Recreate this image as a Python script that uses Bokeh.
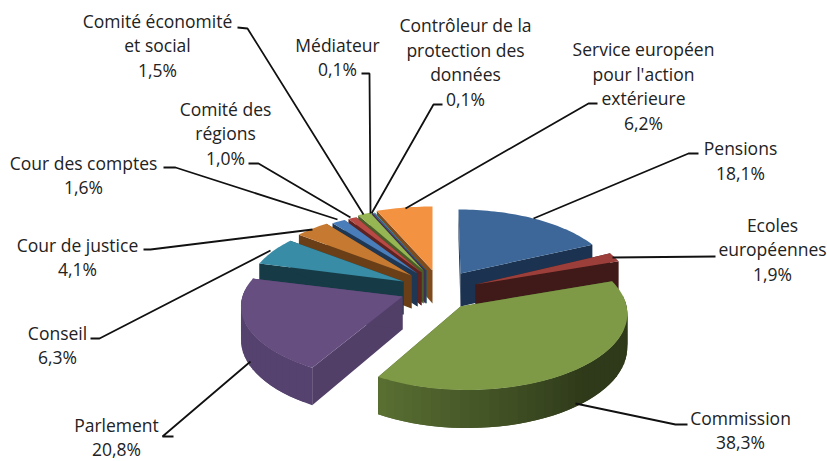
import math
from bokeh.plotting import figure
from bokeh.models import Range1d, ColumnDataSource
from bokeh.core.properties import value
from bokeh.embed import file_html
from bokeh.resources import INLINE

# ---- data
names = ["Pensions", "Ecoles\neuropéennes", "Commission", "Parlement", "Conseil",
         "Cour de justice", "Cour des comptes", "Comité des\nrégions",
         "Comité économité\net social", "Médiateur",
         "Contrôleur de la\nprotection des\ndonnées",
         "Service européen\npour l'action\nextérieure"]
shares = [18.1, 1.9, 38.3, 20.8, 6.3, 4.1, 1.6, 1.0, 1.5, 0.1, 0.1, 6.2]

# ---- styles / layout, one entry per slice
top_col = ["#3C6798", "#9C3F3B", "#7E9A47", "#664E80", "#398CA5", "#C67A31",
           "#4A7EBB", "#B84A46", "#95B652", "#7D60A0", "#46AAC5", "#F39241"]
side_dark = ["#1B3350", "#3F1A18", "#2F3A1A", "#4A3A60", "#163B46", "#6A3F18",
             "#1F3752", "#5E2320", "#4A5C27", "#3E3050", "#235562", "#7F4A1C"]
side_light = ["#1B3350", "#3F1A18", "#5A7033", "#55426E", "#163B46", "#6A3F18",
              "#1F3752", "#5E2320", "#4A5C27", "#3E3050", "#235562", "#7F4A1C"]
apex_x = [460, 475, 460, 402, 403, 411, 417, 421, 423, 425, 426, 432]
apex_y = [273, 284, 306, 296, 281, 275, 273, 272, 270, 270, 270, 270]
rim_x = [458, 475, 467, 402, 403, 411, 417, 421, 423, 425, 426, 432]
rim_y = [273, 284, 303, 296, 281, 275, 273, 272, 270, 270, 270, 270]
scale_x = [0.945, 0.95, 0.96, 0.97, 0.935, 0.93, 0.93, 0.93, 0.93, 0.93, 0.93, 1.0]
scale_y = [1.0, 1.08, 1.03, 1.0, 1.0, 1.0, 0.97, 0.97, 0.97, 0.97, 0.97, 1.0]
order = [0, 11, 10, 9, 8, 7, 6, 5, 4, 3, 1, 2]
RX, RY, K, DEPTH = 165.0, 72.6, 0.135, 33.0

label_x = [740, 772, 740, 116, 57, 77, 83, 225, 157, 337, 465, 643]
label_y = [160, 249, 429.5, 436.5, 344.5, 256.5, 174.5, 133, 45, 56.5, 61.5, 85.5]
leaders = [
    [(698, 153), (688, 153), (533, 218)],
    [(715, 256), (612, 257)],
    [(687, 424), (675, 424), (575, 403)],
    [(173, 436), (162, 436), (250, 361)],
    [(90, 338), (99, 338), (270, 250)],
    [(143, 249), (150, 249), (312, 229)],
    [(163, 167), (175, 167), (337, 219)],
    [(248, 163), (258, 163), (350, 217)],
    [(237, 27), (247, 28), (363, 214)],
    [(361, 73), (369, 73), (370, 213)],
    [(442, 104), (433, 104), (371, 213)],
    [(597, 103), (588, 103), (405, 208)],
]


def mix(a, b, f):
    f = max(0.0, min(1.0, f))
    ca = [int(a[i:i + 2], 16) for i in (1, 3, 5)]
    cb = [int(b[i:i + 2], 16) for i in (1, 3, 5)]
    return "#%02x%02x%02x" % tuple(round(u + (v - u) * f) for u, v in zip(ca, cb))


def pt(i, deg):
    t = math.radians(deg)
    w = 1 + K * math.cos(t)
    return (rim_x[i] + scale_x[i] * RX * math.sin(t) / w,
            rim_y[i] - scale_y[i] * RY * math.cos(t) / w)


def drop(p, deg):
    return (p[0], p[1] + DEPTH / (1 + K * math.cos(math.radians(deg))))


cum = [0.0]
for s in shares:
    cum.append(cum[-1] + s)

xs, ys, cols = [], [], []


def add(points, col):
    xs.append([q[0] for q in points])
    ys.append([q[1] for q in points])
    cols.append(col)


for i in order:
    a0, a1 = cum[i] * 3.6, cum[i + 1] * 3.6
    apex = (apex_x[i], apex_y[i])
    apex_low = (apex[0], apex[1] + DEPTH)
    # cut faces
    for a in (a0, a1):
        e = pt(i, a)
        add([apex, e, drop(e, a), apex_low], mix(side_light[i], side_dark[i], 0.4))
    # outer wall, in overlapping steps so no seams appear
    n = max(2, int((a1 - a0) / 3))
    for k in range(n):
        b0 = a0 + (a1 - a0) * k / n
        b1 = a0 + (a1 - a0) * (k + 1) / n
        mid = (b0 + b1) / 2
        if 85 < mid < 275:
            b2 = min(a1, b1 + (a1 - a0) / n)
            p0, p1 = pt(i, b0), pt(i, b2)
            add([p0, p1, drop(p1, b2), drop(p0, b0)],
                mix(side_dark[i], side_light[i], (mid - 140) / 70))
    # top
    n = max(2, int((a1 - a0) / 1.5))
    arc = [pt(i, a0 + (a1 - a0) * k / n) for k in range(n + 1)]
    add([apex] + arc, top_col[i])

p = figure(width=827, height=461, output_backend="svg", toolbar_location=None,
           x_range=Range1d(0, 827), y_range=Range1d(461, 0),
           x_axis_location=None, y_axis_location=None, min_border=0,
           outline_line_color=None)
p.grid.visible = False

p.patches("x", "y", fill_color="c", line_color=None,
          source=ColumnDataSource(dict(x=xs, y=ys, c=cols)))

p.multi_line([[q[0] for q in l] for l in leaders], [[q[1] for q in l] for l in leaders],
             line_color="#111111", line_width=1.8)

labels = ["%s\n%s%%" % (n, ("%.1f" % s).replace(".", ",")) for n, s in zip(names, shares)]
p.text(label_x, label_y, text=labels, text_align="center", text_baseline="middle",
       text_font=value("Open Sans"), text_font_size="17.5px", text_color="#222222",
       text_line_height=1.03)

open("out.html", "w").write(file_html(p, INLINE))
